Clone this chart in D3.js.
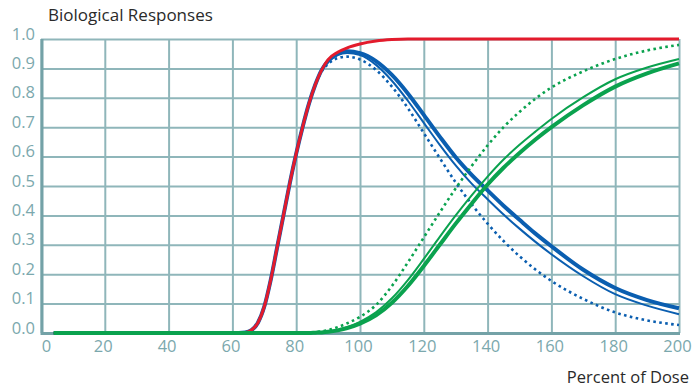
<!DOCTYPE html>
<html>
<head>
<meta charset="utf-8">
<script src="https://cdn.jsdelivr.net/npm/d3@7"></script>
<style>
  body { margin: 0; background: #fff; }
  text { font-family: "Open Sans", sans-serif; }
</style>
</head>
<body>
<div id="chart"></div>
<script>
// Doses shared by every curve (percent of dose)
const doses = [4, 60, 64, 66, 68, 70, 72, 74, 76, 78, 80, 82, 84, 86, 88, 90, 93, 96, 100,
  105, 110, 115, 120, 125, 130, 135, 140, 145, 150, 155, 160, 170, 180, 190, 200];

const redCurve = [0, 0, 0.002, 0.01, 0.035, 0.09, 0.18, 0.29, 0.40, 0.51, 0.61, 0.70, 0.78, 0.845, 0.895, 0.93, 0.955, 0.97, 0.983,
  0.993, 0.998, 1, 1, 1, 1, 1, 1, 1, 1, 1, 1, 1, 1, 1, 1];
const blueThick = [0, 0, 0.002, 0.01, 0.035, 0.09, 0.18, 0.29, 0.40, 0.51, 0.61, 0.70, 0.78, 0.845, 0.895, 0.925, 0.95, 0.958, 0.952,
  0.925, 0.878, 0.815, 0.742, 0.668, 0.598, 0.538, 0.485, 0.433, 0.385, 0.338, 0.295, 0.215, 0.153, 0.112, 0.084];
const blueThin = [0, 0, 0.002, 0.01, 0.035, 0.09, 0.18, 0.29, 0.40, 0.51, 0.61, 0.70, 0.78, 0.845, 0.893, 0.922, 0.945, 0.952, 0.945,
  0.912, 0.858, 0.79, 0.715, 0.64, 0.57, 0.508, 0.455, 0.403, 0.355, 0.31, 0.268, 0.193, 0.132, 0.093, 0.064];
const blueDotted = [0, 0, 0.002, 0.01, 0.035, 0.09, 0.18, 0.29, 0.40, 0.51, 0.61, 0.70, 0.78, 0.845, 0.89, 0.915, 0.935, 0.94, 0.93,
  0.895, 0.838, 0.765, 0.68, 0.595, 0.512, 0.438, 0.372, 0.313, 0.261, 0.216, 0.177, 0.116, 0.07, 0.043, 0.027];
const greenThick = [0, 0, 0, 0, 0, 0, 0, 0, 0, 0, 0, 0, 0, 0.001, 0.002, 0.004, 0.009, 0.017, 0.032,
  0.06, 0.103, 0.16, 0.228, 0.30, 0.372, 0.44, 0.505, 0.562, 0.612, 0.658, 0.70, 0.775, 0.838, 0.883, 0.917];
const greenThin = [0, 0, 0, 0, 0, 0, 0, 0, 0, 0, 0, 0, 0, 0.001, 0.003, 0.005, 0.01, 0.02, 0.038,
  0.07, 0.118, 0.18, 0.252, 0.327, 0.40, 0.468, 0.532, 0.59, 0.64, 0.685, 0.728, 0.802, 0.863, 0.903, 0.932];
const greenDotted = [0, 0, 0, 0, 0, 0, 0, 0, 0, 0, 0, 0, 0.001, 0.003, 0.006, 0.01, 0.02, 0.033, 0.055,
  0.095, 0.16, 0.24, 0.325, 0.41, 0.492, 0.568, 0.638, 0.70, 0.752, 0.797, 0.835, 0.89, 0.932, 0.961, 0.98];

const xTicks = [0, 20, 40, 60, 80, 100, 120, 140, 160, 180, 200];
const yTicks = [0, 0.1, 0.2, 0.3, 0.4, 0.5, 0.6, 0.7, 0.8, 0.9, 1.0];

const W = 693, H = 391;
const margin = { top: 39, right: 14, bottom: 58, left: 41 };
const gridColor = "#8fb6ba";
const tickColor = "#7ba8ad";
const blue = "#0a5eb0";
const green = "#0aa24e";
const red = "#e31b2c";

const svg = d3.select("#chart").append("svg")
  .attr("width", W).attr("height", H);

const x = d3.scaleLinear().domain([0, 200]).range([margin.left, W - margin.right]);
const y = d3.scaleLinear().domain([0, 1]).range([H - margin.bottom, margin.top]);

// grille verticale + libellés x
svg.append("g")
  .attr("transform", `translate(0,${y(0)})`)
  .call(d3.axisBottom(x).tickValues(xTicks).tickSize(-(y(0) - y(1))).tickPadding(7))
  .call(g => {
    g.select(".domain").remove();
    g.selectAll(".tick line").attr("stroke", gridColor).attr("stroke-width", 2);
    g.selectAll(".tick text")
      .attr("fill", tickColor).style("font-size", "16.5px")
      .attr("dx", d => d === 0 ? 5 : -2);
  });

// grille horizontale + libellés y
svg.append("g")
  .attr("transform", `translate(${x(0)},0)`)
  .call(d3.axisLeft(y).tickValues(yTicks).tickFormat(d3.format(".1f")).tickSize(-(x(200) - x(0))).tickPadding(6))
  .call(g => {
    g.select(".domain").remove();
    g.selectAll(".tick line").attr("stroke", gridColor).attr("stroke-width", 2);
    g.selectAll(".tick text")
      .attr("fill", tickColor).style("font-size", "16.5px")
      .attr("dy", 0);
  });

// axes épais
svg.append("line")
  .attr("x1", x(0) + 1).attr("x2", x(0) + 1)
  .attr("y1", y(1)).attr("y2", y(0) + 2)
  .attr("stroke", "#74a2a7").attr("stroke-width", 3);
svg.append("line")
  .attr("x1", x(0)).attr("x2", x(200) + 1)
  .attr("y1", y(0) + 0.5).attr("y2", y(0) + 0.5)
  .attr("stroke", "#74a2a7").attr("stroke-width", 3);

const line = values => d3.line()
  .x((d, i) => x(doses[i]))
  .y(d => y(d))
  .curve(d3.curveMonotoneX)(values);

const series = [
  { values: blueDotted, color: blue, width: 2.6, dash: "2.6 3.4" },
  { values: blueThin, color: blue, width: 2 },
  { values: blueThick, color: blue, width: 4 },
  { values: redCurve, color: red, width: 3 },
  { values: greenDotted, color: green, width: 2.6, dash: "2.6 3.4" },
  { values: greenThin, color: green, width: 2 },
  { values: greenThick, color: green, width: 4 },
];

svg.append("g").selectAll("path")
  .data(series)
  .join("path")
  .attr("d", d => line(d.values))
  .attr("fill", "none")
  .attr("stroke", d => d.color)
  .attr("stroke-width", d => d.width)
  .attr("stroke-dasharray", d => d.dash || null);

// titres
svg.append("text")
  .attr("x", 48).attr("y", 21)
  .attr("fill", "#2a2a2a").style("font-size", "17px")
  .text("Biological Responses");

svg.append("text")
  .attr("x", 689).attr("y", 383)
  .attr("text-anchor", "end")
  .attr("fill", "#2a2a2a").style("font-size", "16.5px")
  .text("Percent of Dose");
</script>
</body>
</html>
